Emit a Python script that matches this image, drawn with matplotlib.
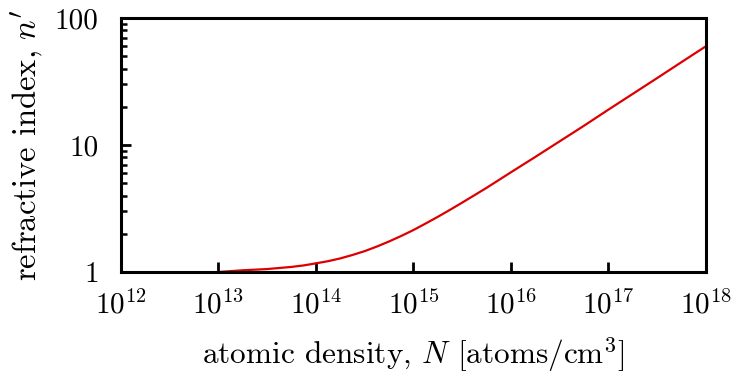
import matplotlib
matplotlib.use("Agg")
import matplotlib.pyplot as plt
from matplotlib.ticker import LogLocator, NullLocator, FixedLocator, FixedFormatter

plt.rcParams['font.family'] = 'serif'
plt.rcParams['font.serif'] = ['cmr10']
plt.rcParams['mathtext.fontset'] = 'cm'
plt.rcParams['axes.unicode_minus'] = False
plt.rcParams['axes.formatter.use_mathtext'] = True

# Atomic density [atoms/cm^3] and refractive index n'
density = [1e13, 10**13.25, 10**13.5, 10**13.75, 10**13.875, 1e14,
           10**14.125, 10**14.25, 10**14.375, 10**14.5, 10**14.625,
           10**14.75, 10**14.875, 1e15, 10**15.125, 10**15.25, 10**15.375,
           10**15.5, 10**15.625, 10**15.75, 1e16, 10**16.25, 10**16.5,
           10**16.75, 1e17, 10**17.25, 10**17.5, 10**17.75, 1e18]
index = [1.00, 1.032, 1.055, 1.097, 1.127, 1.17,
         1.217, 1.28, 1.362, 1.46, 1.587,
         1.74, 1.923, 2.14, 2.409, 2.72, 3.088,
         3.52, 4.023, 4.6, 6.1, 8.06, 10.7,
         14.2, 19.0, 25.3, 33.7, 45.0, 60.0]

x_ticks = [1e12, 1e13, 1e14, 1e15, 1e16, 1e17, 1e18]
x_labels = [r'$10^{12}$', r'$10^{13}$', r'$10^{14}$', r'$10^{15}$',
            r'$10^{16}$', r'$10^{17}$', r'$10^{18}$']
y_ticks = [1, 10, 100]
y_labels = ['1', '10', '100']

fig = plt.figure(figsize=(7.33, 3.77), dpi=100)
ax = fig.add_axes([0.165, 0.2785, 0.798, 0.6735])

ax.plot(density, index, color='#dd0000', lw=1.6)

ax.set_xscale('log')
ax.set_yscale('log')
ax.set_xlim(1e12, 1e18)
ax.set_ylim(1, 100)

ax.xaxis.set_major_locator(FixedLocator(x_ticks))
ax.xaxis.set_major_formatter(FixedFormatter(x_labels))
ax.xaxis.set_minor_locator(NullLocator())
ax.yaxis.set_major_locator(FixedLocator(y_ticks))
ax.yaxis.set_major_formatter(FixedFormatter(y_labels))
ax.yaxis.set_minor_locator(LogLocator(base=10, subs=range(2, 10)))

for s in ax.spines.values():
    s.set_linewidth(2.2)

ax.tick_params(which='both', direction='in', top=False, right=False,
               labelsize=21, width=2.0)
ax.tick_params(axis='x', which='major', pad=13)
ax.tick_params(axis='y', which='major', pad=16)
ax.tick_params(which='major', length=7)
ax.tick_params(which='minor', length=4, width=1.8)

ax.set_xlabel(r"atomic density, $N$ [atoms/cm$^3$]", fontsize=22.5, labelpad=12)
ax.set_ylabel(r"refractive index, $n'$", fontsize=23.5, labelpad=7)

fig.savefig('out.png', dpi=100, facecolor='white')
